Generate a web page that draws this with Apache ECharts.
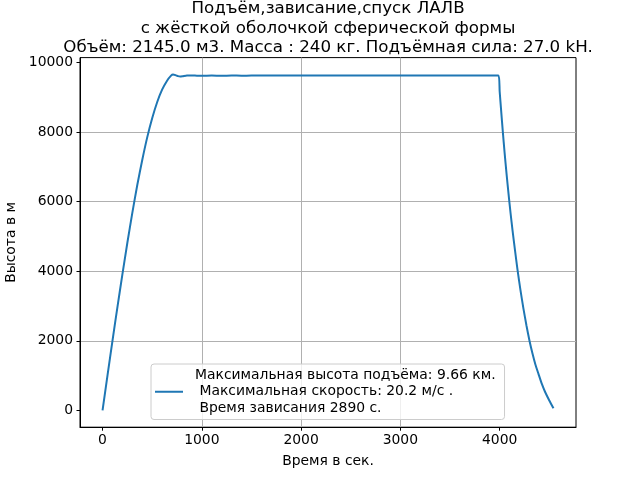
<!DOCTYPE html>
<html>
<head>
<meta charset="utf-8">
<script src="https://cdn.jsdelivr.net/npm/echarts@6/dist/echarts.min.js"></script>
<style>html,body{margin:0;padding:0;background:#fff}#c{width:640px;height:480px}</style>
</head>
<body>
<div id="c"></div>
<script>
const titleLines = [
  "Подъём,зависание,спуск ЛАЛВ",
  "с жёсткой оболочкой сферической формы",
  "Объём: 2145.0 м3. Масса : 240 кг. Подъёмная сила: 27.0 kH."
];
const xAxisTitle = "Время в сек.";
const yAxisTitle = "Высота в м";
const legendLines = [
  "Максимальная высота подъёма: 9.66 км.",
  " Максимальная скорость: 20.2 м/с .",
  " Время зависания 2890 с."
];
const xTicks = [0, 1000, 2000, 3000, 4000];
const yTicks = [0, 2000, 4000, 6000, 8000, 10000];

// time (s) and height (m)
const timeSec = [0, 50, 100, 150, 200, 250, 300, 350, 400, 450, 500, 550, 600, 650, 690, 710, 735, 760, 782, 810, 850, 900, 950, 1000, 1100, 1200, 1300, 1400, 1500, 2000, 3000, 3988,
  4000, 4016, 4032, 4050, 4070, 4090, 4110, 4130, 4155, 4179, 4210, 4240, 4270, 4300, 4330, 4360, 4391, 4425, 4458, 4500, 4542];
const heightM = [0, 1005, 2000, 2970, 3910, 4820, 5680, 6480, 7200, 7850, 8400, 8860, 9220, 9480, 9625, 9658, 9640, 9610, 9598, 9610, 9628, 9630, 9622, 9620, 9626, 9621, 9627, 9624, 9625, 9625, 9625, 9625,
  9175, 8583, 8007, 7404, 6784, 6208, 5668, 5168, 4593, 4060, 3450, 2920, 2440, 2010, 1641, 1320, 1050, 760, 529, 285, 60];

const xMin = -227, xMax = 4769;
const yMin = -483, yMax = 10143;

const FONT = "DejaVu Sans";
const chart = echarts.init(document.getElementById('c'), null, {renderer: 'canvas'});
const seriesData = timeSec.map((t, i) => [t, heightM[i]]);
const legendName = legendLines.join('\n');

chart.setOption({
  animation: false,
  backgroundColor: '#fff',
  title: {
    text: titleLines.join('\n'),
    left: 328, top: -1, textAlign: 'center', padding: 0,
    textStyle: {fontFamily: FONT, fontSize: 16.7, fontWeight: 'normal', color: '#000', lineHeight: 19.5}
  },
  grid: {left: 80, right: 64, top: 57.6, bottom: 52.8, show: true, borderColor: '#000', borderWidth: 1,
    backgroundColor: 'transparent', containLabel: false, outerBoundsMode: 'none'},
  xAxis: {
    type: 'value', min: xMin, max: xMax,
    name: xAxisTitle, nameLocation: 'middle', nameGap: 27,
    nameTextStyle: {fontFamily: FONT, fontSize: 13.9, color: '#000'},
    axisLine: {show: true, onZero: false, lineStyle: {color: '#000', width: 1}},
    axisTick: {show: true, length: 3.5, customValues: xTicks, lineStyle: {color: '#000', width: 1}},
    axisLabel: {customValues: xTicks, margin: 6, fontFamily: FONT, fontSize: 13.9, color: '#000',
      formatter: v => String(v)},
    splitLine: {show: true, showMinLine: false, showMaxLine: false, lineStyle: {color: '#b0b0b0', width: 1}}
  },
  yAxis: {
    type: 'value', min: yMin, max: yMax,
    name: yAxisTitle, nameLocation: 'middle', nameGap: 58, nameRotate: 90,
    nameTextStyle: {fontFamily: FONT, fontSize: 13.9, color: '#000'},
    axisLine: {show: true, onZero: false, lineStyle: {color: '#000', width: 1}},
    axisTick: {show: true, length: 3.5, customValues: yTicks, lineStyle: {color: '#000', width: 1}},
    axisLabel: {customValues: yTicks, margin: 7, fontFamily: FONT, fontSize: 13.9, color: '#000',
      formatter: v => String(v)},
    splitLine: {show: true, showMinLine: false, showMaxLine: false, lineStyle: {color: '#b0b0b0', width: 1}}
  },
  legend: {
    left: 151, top: 364,
    orient: 'vertical',
    itemWidth: 28, itemHeight: 2, itemGap: 0,
    padding: [3, 9, 3, 4],
    backgroundColor: 'rgba(255,255,255,0.8)',
    borderColor: '#cccccc', borderWidth: 1, borderRadius: 3,
    textStyle: {fontFamily: FONT, fontSize: 13.9, color: '#000', lineHeight: 16.5, padding: [0, 0, 0, 7]},
    data: [{name: legendName, icon: 'rect', itemStyle: {color: '#1f77b4'}}]
  },
  series: [{
    name: legendName,
    type: 'line',
    data: seriesData,
    symbol: 'none',
    showSymbol: false,
    smooth: 0.2,
    lineStyle: {color: '#1f77b4', width: 2},
    itemStyle: {color: '#1f77b4'},
    z: 3
  }]
});
</script>
</body>
</html>
